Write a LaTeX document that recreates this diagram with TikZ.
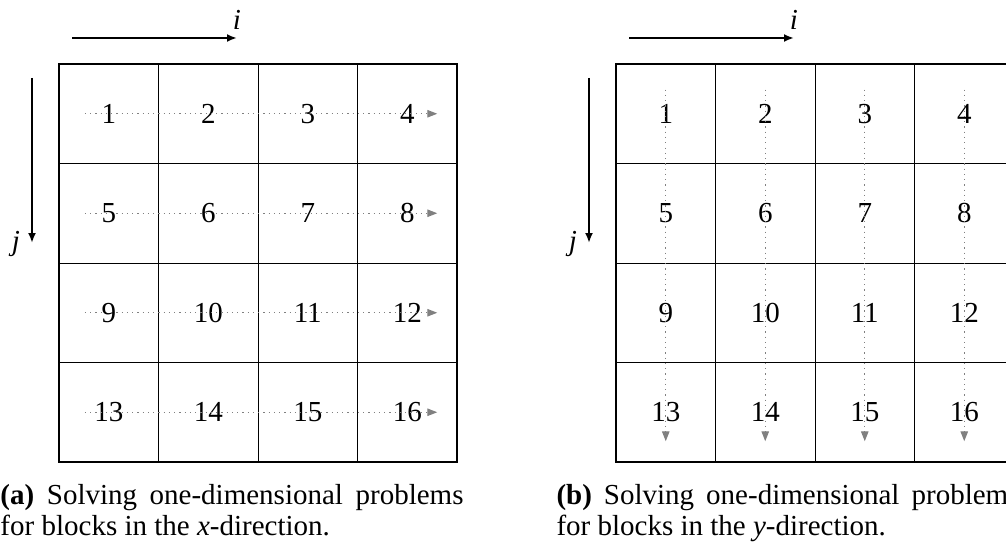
\documentclass[tikz,border=0pt]{standalone}
\usepackage{fontspec}
\setmainfont{Liberation Serif}
\usetikzlibrary{arrows.meta,calc}

\begin{document}
\begin{tikzpicture}[x=0.4pt,y=-0.4pt,font=\fontsize{11.6pt}{12.2pt}\selectfont,>={Latex[length=4pt,width=3.2pt]},
  cellnum/.style={inner sep=1pt},
  sweep/.style={gray,dash pattern=on 0.5pt off 1.6pt,line width=0.5pt,-{Triangle[length=4pt,width=3pt,sep=0pt]}},
  axis/.style={->,line width=0.8pt},
  caption/.style={anchor=north west,inner sep=0pt,text width=185.2pt,align=justify}]
  \useasboundingbox (0,0) rectangle (1006,546);

  % (a) one-dimensional sweeps along x
  \draw[line width=0.8pt] (59,64) rectangle (457,462);
  \foreach \k in {1,2,3}{
    \draw[line width=0.4pt] ({59+99.5*\k},64) -- ({59+99.5*\k},462);
    \draw[line width=0.4pt] (59,{64+99.5*\k}) -- (457,{64+99.5*\k});
  }
  \foreach \r in {1,...,4}
    \foreach \c in {1,...,4}{
      \pgfmathtruncatemacro\n{4*(\r-1)+\c}
      \node[cellnum] (a\n) at ({59+99.5*(\c-0.5)},{64+99.5*(\r-0.5)}) {\n};
    }
  \foreach \r in {1,5,9,13}{
    \pgfmathtruncatemacro\e{\r+3}
    \draw[sweep] ([xshift=-9.6pt]a\r.center) -- ([xshift=12pt]a\e.center);
  }
  \coordinate (iA0) at (72,38);
  \coordinate (iA1) at (237,38);
  \node (ilabA) at (237,20) {\textit{i}};
  \draw[axis] (iA0) -- (iA1);
  \coordinate (jA0) at (32,78);
  \coordinate (jA1) at (32,243);
  \node (jlabA) at (16,244) {\textit{j}};
  \draw[axis] (jA0) -- (jA1);
  \node[caption] (capA) at (0,484)
    {\textbf{(a)} Solving one-dimensional problems\linebreak for blocks in the \textit{x}-direction.};

  % (b) one-dimensional sweeps along y
  \begin{scope}[xshift=557*0.4pt]
    \draw[line width=0.8pt] (59,64) rectangle (457,462);
    \foreach \k in {1,2,3}{
      \draw[line width=0.4pt] ({59+99.5*\k},64) -- ({59+99.5*\k},462);
      \draw[line width=0.4pt] (59,{64+99.5*\k}) -- (457,{64+99.5*\k});
    }
    \foreach \r in {1,...,4}
      \foreach \c in {1,...,4}{
        \pgfmathtruncatemacro\n{4*(\r-1)+\c}
        \node[cellnum] (b\n) at ({59+99.5*(\c-0.5)},{64+99.5*(\r-0.5)}) {\n};
      }
    \foreach \c in {1,...,4}{
      \pgfmathtruncatemacro\e{\c+12}
      \draw[sweep] ([yshift=9.6pt]b\c.center) -- ([yshift=-11.6pt]b\e.center);
    }
    \coordinate (iB0) at (72,38);
    \coordinate (iB1) at (237,38);
    \node (ilabB) at (237,20) {\textit{i}};
    \draw[axis] (iB0) -- (iB1);
    \coordinate (jB0) at (32,78);
    \coordinate (jB1) at (32,243);
    \node (jlabB) at (16,244) {\textit{j}};
    \draw[axis] (jB0) -- (jB1);
    \node[caption] (capB) at (-1,484)
      {\textbf{(b)} Solving one-dimensional problems\linebreak for blocks in the \textit{y}-direction.};
  \end{scope}
\end{tikzpicture}
\end{document}
